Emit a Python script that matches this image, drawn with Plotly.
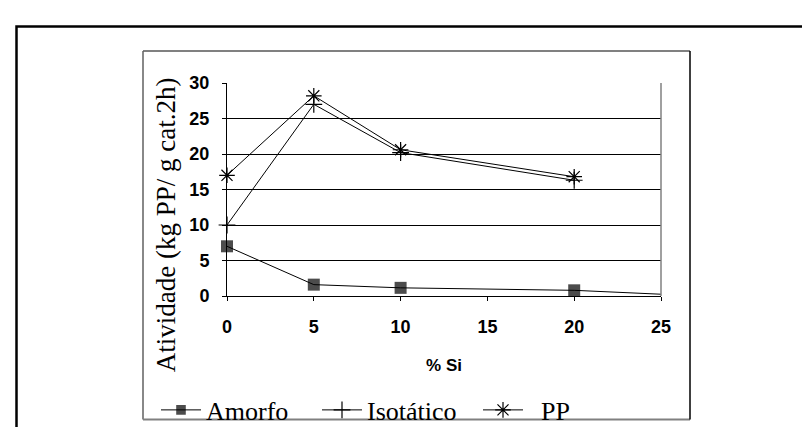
import plotly.graph_objects as go

x_si = [0, 5, 10, 20, 25]
amorfo = [7.0, 1.6, 1.15, 0.8, 0.25]
x_iso = [0, 5, 10, 20]
isotatico = [10.0, 27.0, 20.2, 16.3]
pp = [17.0, 28.2, 20.6, 16.8]
x_ticks = [0, 5, 10, 15, 20, 25]
y_ticks = [0, 5, 10, 15, 20, 25, 30]
y_title = "Atividade (kg PP/ g cat.2h)"
x_title = "% Si"

# pixel geometry helpers (plot area: x 219..653, y 75..301)
L, R, T, B = 219, 653, 75, 301
def px(x):
    return (x - L) / (R - L)
def py(y):
    return (B - y) / (B - T)

fig = go.Figure()
fig.add_trace(go.Scatter(
    x=x_si, y=amorfo, name="Amorfo", mode="lines+markers",
    line=dict(color="black", width=1),
    marker=dict(symbol="square", size=[12, 12, 12, 12, 0], color="black",
                line=dict(width=0)),
    cliponaxis=False,
))
fig.add_trace(go.Scatter(
    x=x_iso, y=isotatico, name="Isotático", mode="lines+markers",
    line=dict(color="black", width=1),
    marker=dict(symbol="cross-thin", size=12, color="black",
                line=dict(color="black", width=1.2)),
    cliponaxis=False,
))
fig.add_trace(go.Scatter(
    x=x_iso, y=pp, name="\u00a0\u00a0PP", mode="lines+markers",
    line=dict(color="black", width=1),
    marker=dict(symbol="asterisk", size=13, color="black",
                line=dict(color="black", width=1.2)),
    cliponaxis=False,
))

tickfont = dict(family="Liberation Sans, Arial", size=18, color="black", weight="bold")

fig.update_layout(
    width=810, height=437,
    margin=dict(l=L, r=810 - R, t=T, b=437 - B),
    paper_bgcolor="white", plot_bgcolor="white",
    showlegend=True,
    legend=dict(orientation="h", x=px(148), y=py(397), xanchor="left", yanchor="top",
                font=dict(family="Liberation Serif, Times New Roman", size=26, color="black"),
                itemwidth=40, bgcolor="rgba(0,0,0,0)", traceorder="normal",
                entrywidth=106),
    xaxis=dict(range=[0, 25], tickvals=x_ticks, showgrid=False, zeroline=False,
               showline=True, linecolor="black", linewidth=1,
               ticks="outside", ticklen=4, tickcolor="black",
               tickfont=tickfont, ticklabelstandoff=10,
               title=dict(text=x_title, font=dict(family="Liberation Sans, Arial", size=17,
                                                  color="black", weight="bold"), standoff=23)),
    yaxis=dict(range=[0, 30], tickvals=y_ticks, showgrid=True, gridcolor="black", gridwidth=1,
               zeroline=False, showline=True, linecolor="black", linewidth=1,
               ticks="outside", ticklen=4, tickcolor="black",
               tickfont=tickfont, ticklabelstandoff=9),
    annotations=[
        dict(text=y_title, xref="paper", yref="paper", x=px(158), y=py(226),
             xanchor="center", yanchor="middle", textangle=-90, showarrow=False,
             font=dict(family="Liberation Serif, Times New Roman", size=27, color="black")),
    ],
    shapes=[
        # right edge of plot area
        dict(type="line", xref="paper", yref="paper", x0=1, x1=1, y0=0, y1=1,
             line=dict(color="#808080", width=1.5)),
        # inner box (shadowed frame)
        dict(type="line", xref="paper", yref="paper",
             x0=px(135), x1=px(682), y0=py(41), y1=py(41),
             line=dict(color="#808080", width=2)),
        dict(type="line", xref="paper", yref="paper",
             x0=px(135), x1=px(135), y0=py(41), y1=py(432),
             line=dict(color="#606060", width=1.5)),
        dict(type="line", xref="paper", yref="paper",
             x0=px(135), x1=px(682), y0=py(432), y1=py(432),
             line=dict(color="#808080", width=2)),
        dict(type="line", xref="paper", yref="paper",
             x0=px(682), x1=px(682), y0=py(41), y1=py(432),
             line=dict(color="black", width=1.5)),
        # outer thick frame
        dict(type="path", xref="paper", yref="paper",
             path="M {a},{b} L {a},{c} L {d},{c}".format(
                 a=px(8.5), b=py(440), c=py(15), d=px(815)),
             line=dict(color="black", width=2.5)),
    ],
)

fig.write_html("out.html")
